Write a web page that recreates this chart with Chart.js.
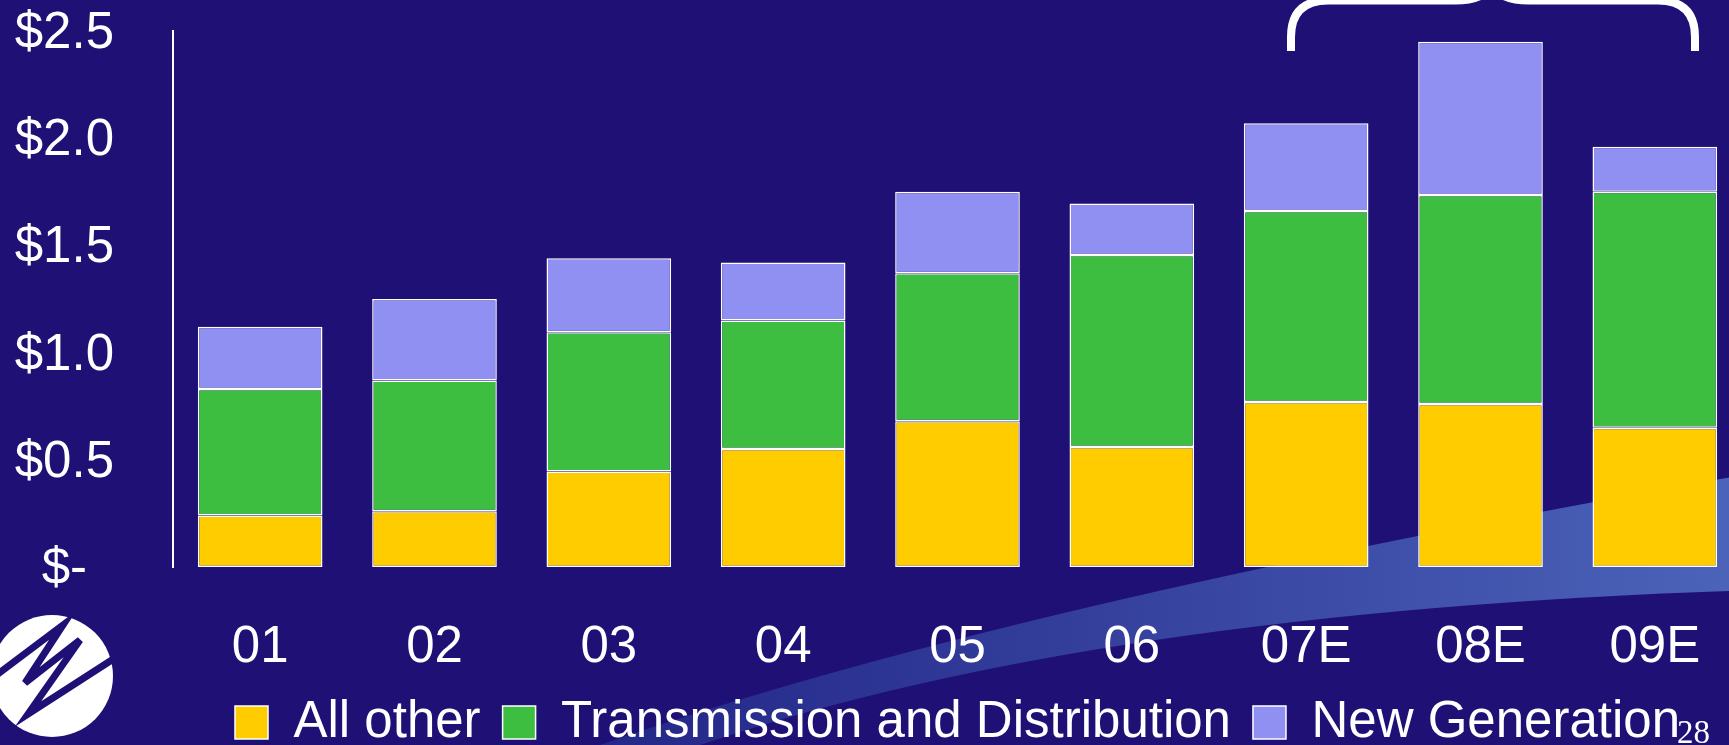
<!DOCTYPE html>
<html>
<head>
<meta charset="utf-8">
<title>Capital Expenditures</title>
<script src="https://cdn.jsdelivr.net/npm/chart.js@4"></script>
<style>
	html, body {
		margin: 0;
		padding: 0;
		background: #1f1076;
		overflow: hidden;
	}
	#chartBox {
		position: absolute;
		left: 0;
		top: 0;
		width: 1742px;
		height: 758px;
	}
</style>
</head>
<body>
<div id="chartBox"><canvas id="capexChart"></canvas></div>
<script>
// 연도별 투자액 ($ billions)
const years = ['01', '02', '03', '04', '05', '06', '07E', '08E', '09E'];
const allOther = [0.24, 0.26, 0.445, 0.55, 0.68, 0.56, 0.77, 0.76, 0.65];
const transDist = [0.59, 0.61, 0.65, 0.60, 0.69, 0.895, 0.89, 0.975, 1.10];
const newGen = [0.29, 0.38, 0.345, 0.27, 0.38, 0.24, 0.41, 0.715, 0.21];
const yTickLabels = ['$-', '$0.5', '$1.0', '$1.5', '$2.0', '$2.5'];

const FONT = '"Liberation Sans", Arial, sans-serif';
const NAVY = '#1f1076';

// 배경 + 곡선 띠
const backdrop = {
	id: 'backdrop',
	beforeDraw(chart) {
		const ctx = chart.ctx;
		ctx.save();
		ctx.fillStyle = NAVY;
		ctx.fillRect(0, 0, chart.width, chart.height);

		const grad = ctx.createLinearGradient(650, 0, 1742, 0);
		grad.addColorStop(0, 'rgba(38, 44, 140, 0.9)');
		grad.addColorStop(1, 'rgba(76, 100, 186, 1)');
		ctx.fillStyle = grad;
		ctx.beginPath();
		ctx.moveTo(600, 745);
		ctx.quadraticCurveTo(1000, 605, 1760, 472);
		ctx.lineTo(1760, 590);
		ctx.quadraticCurveTo(1100, 610, 700, 745);
		ctx.closePath();
		ctx.fill();
		ctx.restore();
	},
	afterDraw(chart) {
		const ctx = chart.ctx;
		ctx.save();

		// 상단 중괄호
		ctx.strokeStyle = '#ffffff';
		ctx.lineWidth = 8;
		ctx.beginPath();
		ctx.moveTo(1291, 51);
		ctx.lineTo(1291, 37);
		ctx.quadraticCurveTo(1291, 0.5, 1328, 0.5);
		ctx.lineTo(1455, 0.5);
		ctx.quadraticCurveTo(1484, 0.5, 1492, -15);
		ctx.quadraticCurveTo(1500, 0.5, 1529, 0.5);
		ctx.lineTo(1658, 0.5);
		ctx.quadraticCurveTo(1695, 0.5, 1695, 37);
		ctx.lineTo(1695, 51);
		ctx.stroke();

		// 로고
		ctx.fillStyle = '#ffffff';
		ctx.beginPath();
		ctx.arc(52, 676, 61, 0, Math.PI * 2);
		ctx.fill();
		ctx.strokeStyle = NAVY;
		ctx.lineWidth = 7;
		ctx.lineJoin = 'miter';
		ctx.miterLimit = 6;
		ctx.beginPath();
		ctx.moveTo(-5, 676);
		ctx.lineTo(63, 625);
		ctx.lineTo(25, 683);
		ctx.lineTo(80, 640);
		ctx.lineTo(28, 714);
		ctx.lineTo(118, 656);
		ctx.stroke();

		// 페이지 번호
		ctx.fillStyle = '#ffffff';
		ctx.font = '33px "Liberation Serif", "Times New Roman", serif';
		ctx.textBaseline = 'alphabetic';
		ctx.fillText('28', 1677, 743);
		ctx.restore();
	}
};

function initCapexChart() {
	const ctx = document.getElementById('capexChart').getContext('2d');
	const barStyle = {
		borderColor: '#ffffff',
		borderWidth: 1.5,
		borderSkipped: false,
		categoryPercentage: 0.715,
		barPercentage: 1
	};
	new Chart(ctx, {
		type: 'bar',
		data: {
			labels: years,
			datasets: [
				Object.assign({ label: 'All other', data: allOther, backgroundColor: '#ffcc00' }, barStyle),
				Object.assign({ label: 'Transmission and Distribution', data: transDist, backgroundColor: '#3ebe40' }, barStyle),
				Object.assign({ label: 'New Generation', data: newGen, backgroundColor: '#9090f2' }, barStyle)
			]
		},
		options: {
			responsive: true,
			maintainAspectRatio: false,
			animation: false,
			layout: {
				padding: { left: 13, right: 0, top: 0, bottom: 0 }
			},
			scales: {
				x: {
					stacked: true,
					grid: { display: false },
					border: { display: false },
					ticks: {
						color: '#ffffff',
						padding: 42,
						font: { family: FONT, size: 51 }
					},
					// 축 높이 고정 (padding이 양쪽으로 잡히는 것 방지)
					afterFit: function(scale) {
						scale.height = 108;
						scale.paddingLeft = 0;
						scale.paddingRight = 0;
					}
				},
				y: {
					stacked: true,
					min: 0,
					max: 2.5,
					grid: { display: false },
					border: { display: true, color: '#ffffff', width: 2 },
					ticks: {
						stepSize: 0.5,
						color: '#ffffff',
						padding: 51,
						labelOffset: 3,
						crossAlign: 'center',
						font: { family: FONT, size: 51 },
						callback: function(value, index) {
							return yTickLabels[index];
						}
					},
					afterFit: function(scale) {
						scale.width = 160;
						scale.paddingTop = 31;
						scale.paddingBottom = 0;
					}
				}
			},
			plugins: {
				legend: {
					position: 'bottom',
					fullSize: false,
					labels: {
						color: '#ffffff',
						boxWidth: 33,
						boxHeight: 33,
						padding: 22,
						font: { family: FONT, size: 51 }
					}
				},
				tooltip: { enabled: false }
			}
		},
		plugins: [backdrop]
	});
}

document.addEventListener('DOMContentLoaded', function() {
	initCapexChart();
});
</script>
</body>
</html>
